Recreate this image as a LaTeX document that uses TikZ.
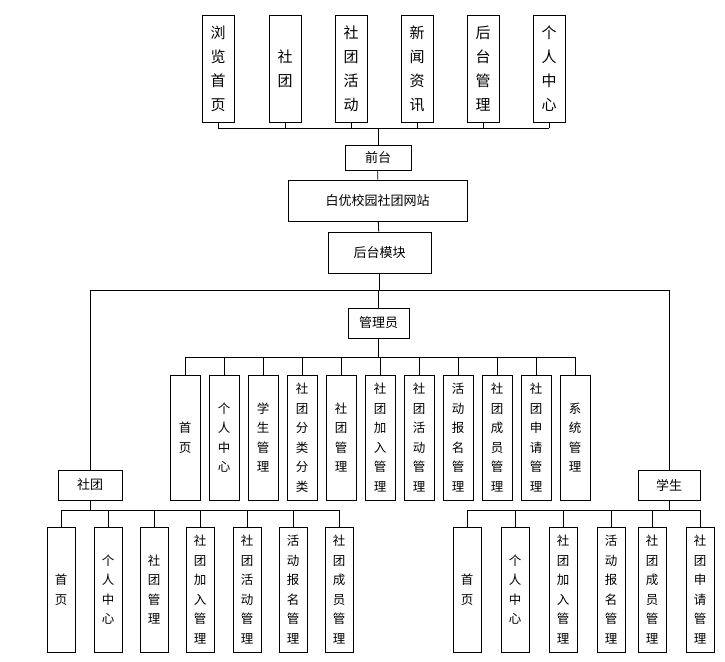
\documentclass[tikz,border=0pt]{standalone}
\usepackage{fontspec}
\setmainfont{Noto Sans CJK SC}
\begin{document}
\begin{tikzpicture}[x=1pt,y=-1pt,line width=0.8pt,
  bx/.style={draw,inner sep=0pt,align=center,font=\fontsize{12.5}{19.5}\selectfont},
  tb/.style={draw,inner sep=0pt,align=center,font=\fontsize{15}{24}\selectfont},
  hb/.style={draw,inner sep=0pt,align=center,font=\fontsize{13}{16}\selectfont}]
\useasboundingbox (0,0) rectangle (725,661);
% top row
\foreach \n/\x/\t in {t1/218/浏\\览\\首\\页, t2/285/社\\团, t3/351/社\\团\\活\\动, t4/417/新\\闻\\资\\讯, t5/483/后\\台\\管\\理, t6/549/个\\人\\中\\心}
  \node[tb,minimum width=32,minimum height=107] (\n) at (\x,68.5) {\t};
\node[hb,minimum width=66,minimum height=25] (qt) at (378,157.5) {前台};
\node[hb,minimum width=179,minimum height=41] (site) at (377.5,200.5) {白优校园社团网站};
\node[hb,minimum width=103,minimum height=41] (ht) at (379.5,252.5) {后台模块};
\node[hb,minimum width=61,minimum height=30] (adm) at (378.5,323) {管理员};
\node[hb,minimum width=64,minimum height=30] (st) at (90,485) {社团};
\node[hb,minimum width=62,minimum height=30] (stu) at (669,485) {学生};
\coordinate (b1) at (0,128);
\foreach \n in {t1,t2,t3,t4,t5,t6} \draw (\n.south) -- (\n.south |- b1);
\draw (t1.south |- b1) -- (t6.south |- b1);
\draw (qt.north) -- (qt.north |- b1);
\draw (qt) -- (site); \draw (site) -- (ht);
\coordinate (b2) at (0,290);
\draw (ht.south) -- (ht.south |- b2);
\draw (st.north) |- (stu.north |- b2) -- (stu.north);
\draw (adm.north) -- (adm.north |- b2);
% admin children
\coordinate (b3) at (0,357);
\draw (adm.south) -- (adm.south |- b3);
\foreach \n/\x/\t in {a1/185/首\\页, a2/224/个\\人\\中\\心, a3/263/学\\生\\管\\理, a4/302/社\\团\\分\\类\\分\\类, a5/341/社\\团\\管\\理, a6/380/社\\团\\加\\入\\管\\理, a7/419/社\\团\\活\\动\\管\\理, a8/458/活\\动\\报\\名\\管\\理, a9/497/社\\团\\成\\员\\管\\理, a10/536/社\\团\\申\\请\\管\\理, a11/575/系\\统\\管\\理}
  {\node[bx,minimum width=30,minimum height=125] (\n) at (\x,437.5) {\t};
   \draw (\n.north) -- (\n.north |- b3);}
\draw (a1.north |- b3) -- (a11.north |- b3);
% club children
\coordinate (b4) at (0,510);
\draw (st.south) -- (st.south |- b4);
\foreach \n/\x/\t in {c1/61/首\\页, c2/108/个\\人\\中\\心, c3/154/社\\团\\管\\理, c4/200/社\\团\\加\\入\\管\\理, c5/247/社\\团\\活\\动\\管\\理, c6/293/活\\动\\报\\名\\管\\理, c7/339/社\\团\\成\\员\\管\\理}
  {\node[bx,minimum width=28,minimum height=125] (\n) at (\x,589.5) {\t};
   \draw (\n.north) -- (\n.north |- b4);}
\draw (c1.north |- b4) -- (c7.north |- b4);
% student children
\draw (stu.south) -- (stu.south |- b4);
\foreach \n/\x/\t in {s1/467/首\\页, s2/515/个\\人\\中\\心, s3/563/社\\团\\加\\入\\管\\理, s4/611/活\\动\\报\\名\\管\\理, s5/652/社\\团\\成\\员\\管\\理, s6/700/社\\团\\申\\请\\管\\理}
  {\node[bx,minimum width=28,minimum height=125] (\n) at (\x,589.5) {\t};
   \draw (\n.north) -- (\n.north |- b4);}
\draw (s1.north |- b4) -- (s6.north |- b4);
\end{tikzpicture}
\end{document}
